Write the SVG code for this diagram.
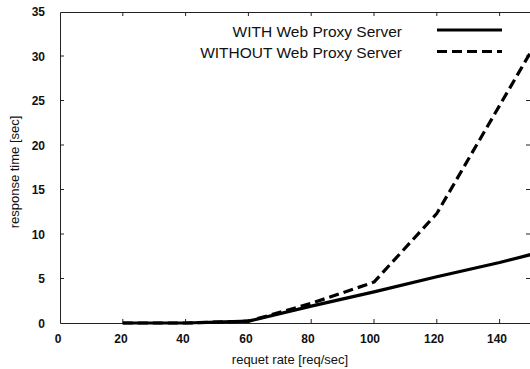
<svg xmlns="http://www.w3.org/2000/svg" width="530" height="369" viewBox="0 0 530 369">
<style>
.frame{fill:none;stroke:#222;stroke-width:1}
.tick{stroke:#222;stroke-width:1}
.num{font-family:"Liberation Sans",Arial,sans-serif;font-size:12px;font-weight:bold;fill:#111}
.lab{font-family:"Liberation Sans",Arial,sans-serif;font-size:13px;fill:#111}
.leg{font-family:"Liberation Sans",Arial,sans-serif;font-size:15.5px;fill:#111;text-anchor:end}
.with{fill:none;stroke:#000;stroke-width:3.2;stroke-linejoin:round}
.without{fill:none;stroke:#000;stroke-width:3.2;stroke-dasharray:10 5;stroke-linejoin:round}
</style>
<rect width="530" height="369" fill="#fff"/>
<g id="axes">
<path class="frame" d="M60.5 12.5 H531 M60.5 12.5 V323.5 H531"/>
<path class="tick" d="M122.8 323 v-4 M185.6 323 v-4 M248.4 323 v-4 M311.2 323 v-4 M374 323 v-4 M436.8 323 v-4 M499.6 323 v-4
M122.8 12 v4 M185.6 12 v4 M248.4 12 v4 M311.2 12 v4 M374 12 v4 M436.8 12 v4 M499.6 12 v4
M60 278.5 h4 M60 234 h4 M60 189.5 h4 M60 145 h4 M60 100.5 h4 M60 56 h4
M530 278.5 h-4 M530 234 h-4 M530 189.5 h-4 M530 145 h-4 M530 100.5 h-4 M530 56 h-4"/>
</g>
<g id="y-ticks" class="num" text-anchor="end">
<text x="45" y="327.5">0</text>
<text x="45" y="283">5</text>
<text x="45" y="238.5">10</text>
<text x="45" y="194">15</text>
<text x="45" y="149.5">20</text>
<text x="45" y="105">25</text>
<text x="45" y="60.5">30</text>
<text x="45" y="16">35</text>
</g>
<g id="x-ticks" class="num" text-anchor="middle">
<text x="58" y="343">0</text>
<text x="121" y="343">20</text>
<text x="183" y="343">40</text>
<text x="246" y="343">60</text>
<text x="308" y="343">80</text>
<text x="370" y="343">100</text>
<text x="434" y="343">120</text>
<text x="497" y="343">140</text>
</g>
<g id="axis-labels" class="lab">
<text x="290" y="364" text-anchor="middle">requet rate [req/sec]</text>
<text transform="translate(19 172) rotate(-90)" text-anchor="middle">response time [sec]</text>
</g>
<g id="legend">
<text class="leg" x="402" y="36.5">WITH Web Proxy Server</text>
<text class="leg" x="402" y="58">WITHOUT Web Proxy Server</text>
<line class="with" x1="437" y1="30" x2="502" y2="30"/>
<line class="without" x1="437" y1="51.5" x2="502" y2="51.5"/>
</g>
<g id="data">
<polyline class="without" points="122.8,323 185.6,323 248.4,321.2 311.2,303.4 374,282.1 436.8,213.5 531,51.5"/>
<polyline class="with" points="122.8,323 185.6,323 248.4,321.2 311.2,306.1 374,291.9 436.8,276.7 499.6,262.5 531,254.5"/>
</g>
</svg>
